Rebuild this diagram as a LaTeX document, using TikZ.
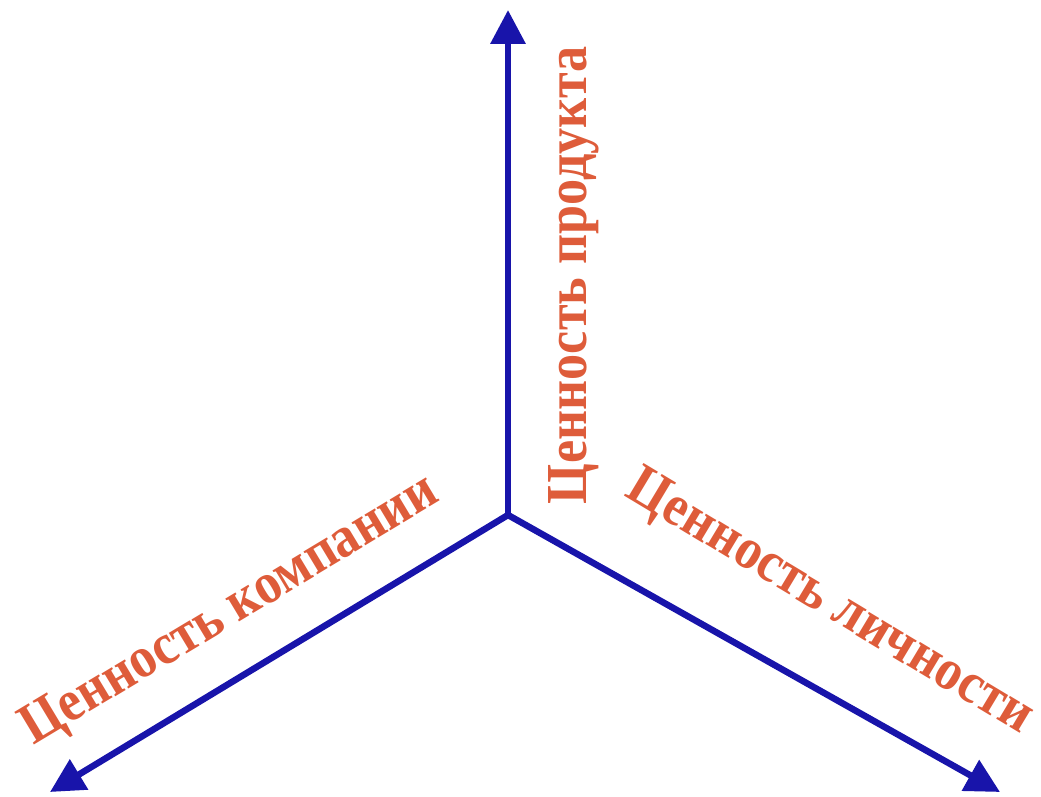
\documentclass[tikz,border=0pt]{standalone}
\usepackage{fontspec}
\setmainfont{Liberation Serif}
\usetikzlibrary{arrows.meta}
\definecolor{axisblue}{RGB}{24,20,170}
\definecolor{labelred}{RGB}{222,92,58}
\begin{document}
\begin{tikzpicture}[x=1pt,y=1pt,
  axis/.style={draw=axisblue,line width=6.5pt,-{Triangle[length=34pt,width=34pt]}},
  lbl/.style={text=labelred,font=\bfseries\fontsize{58}{60}\selectfont,inner sep=0pt}]
\useasboundingbox (0,0) rectangle (1041,796);
\coordinate (O) at (508,281);
\coordinate (T) at (508,786);
\coordinate (L) at (50,4);
\coordinate (R) at (1000,4);
\draw[axis] (O) -- (T);
\draw[axis] (O) -- (L);
\draw[axis] (O) -- (R);
\node[lbl,rotate=90,xscale=0.9] (tp) at (574,521) {Ценность продукта};
\node[lbl,rotate=31,xscale=0.9] (tc) at (231,184) {Ценность компании};
\node[lbl,rotate=-31,xscale=0.9] (tl) at (829,192) {Ценность личности};
\end{tikzpicture}
\end{document}
